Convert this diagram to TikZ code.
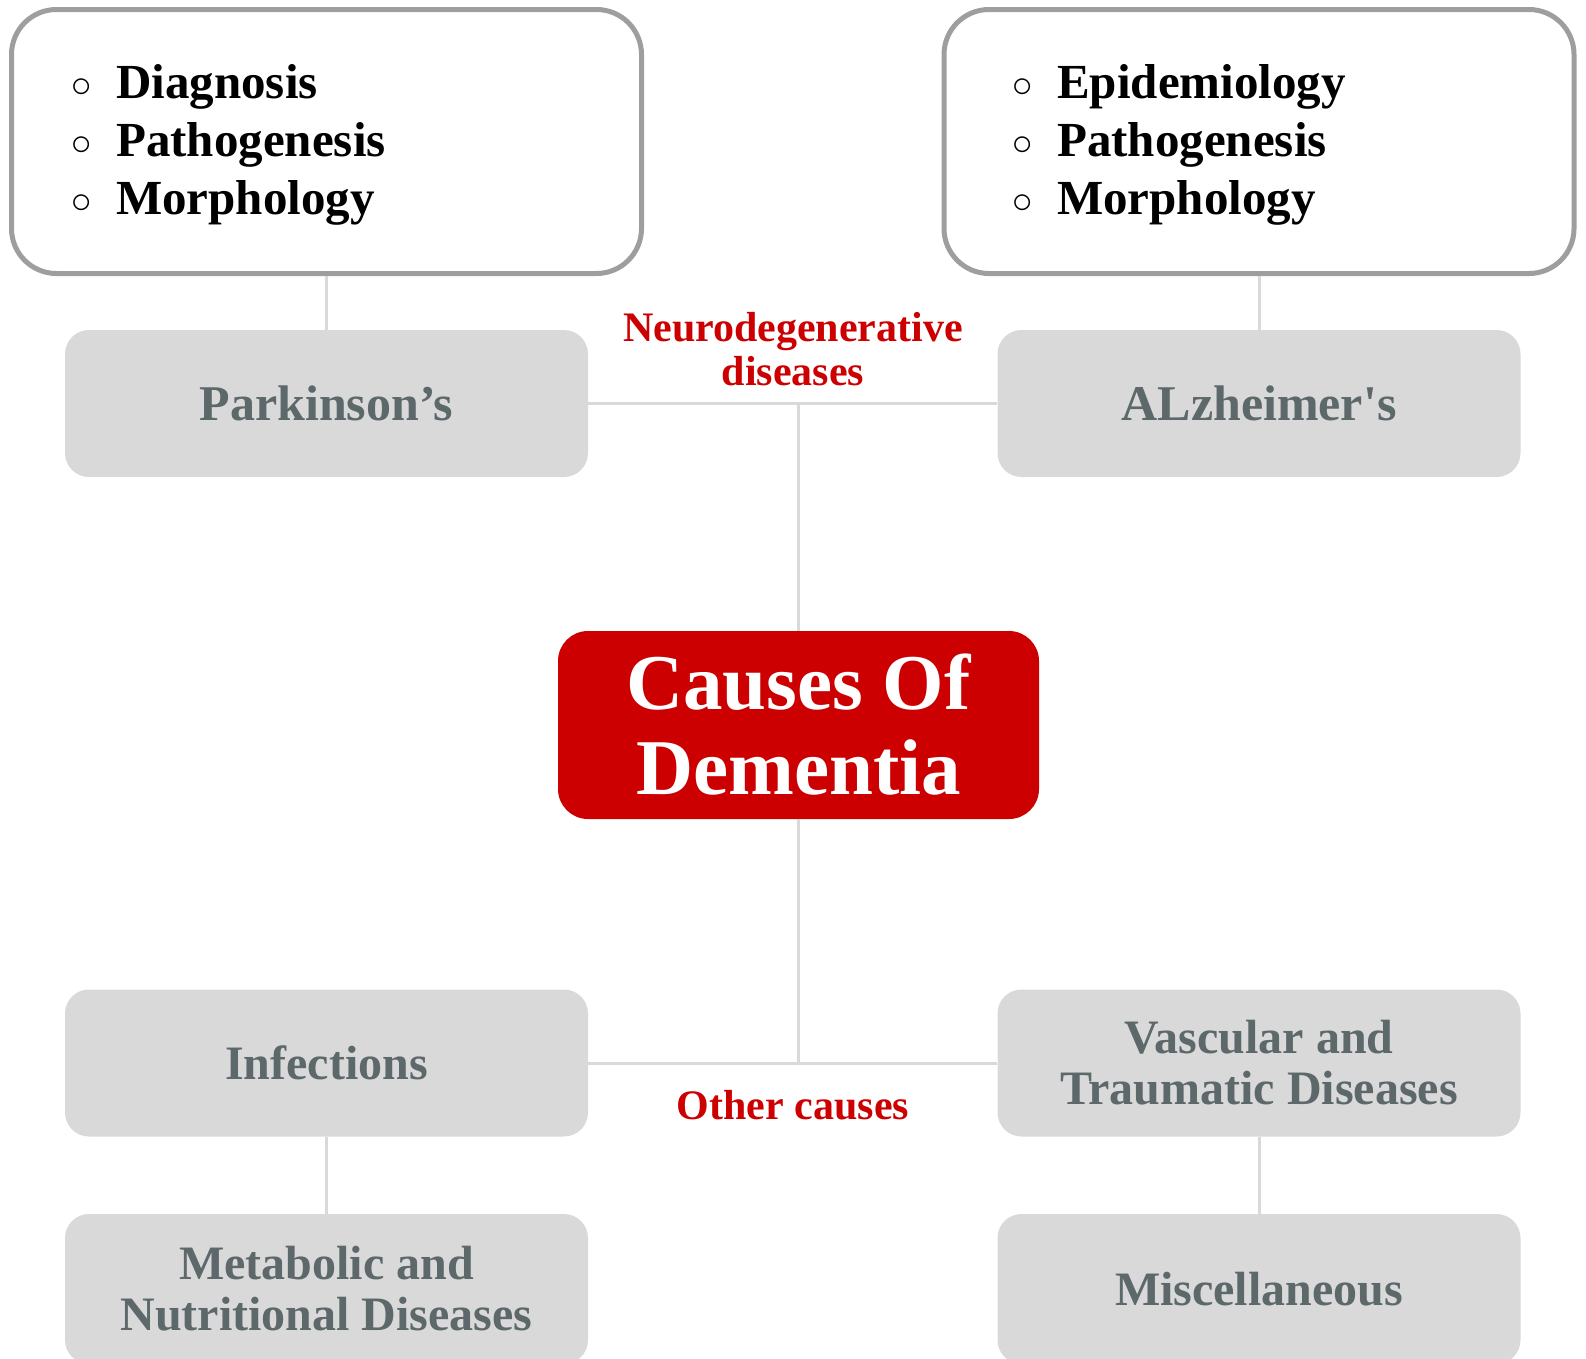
\documentclass[tikz,border=0pt]{standalone}
\usepackage{fontspec}
\setmainfont{Liberation Serif}[Ligatures=TeXOff]
\definecolor{boxgrey}{HTML}{D9D9D9}
\definecolor{txtgrey}{HTML}{5D686B}
\definecolor{redc}{HTML}{CC0000}
\definecolor{bordergrey}{HTML}{9E9E9E}
\newcommand{\bul}{\makebox[30pt][c]{\fontsize{36}{36}\selectfont\raisebox{1pt}{○}}\hspace{20pt}}
\tikzset{
  topbox/.style={draw=bordergrey, line width=5pt, fill=white, rounded corners=45pt,
    minimum width=630pt, minimum height=264pt, inner sep=0pt},
  greybox/.style={fill=boxgrey, rounded corners=24pt, minimum width=523pt,
    minimum height=147pt, inner sep=0pt, text=txtgrey, font=\bfseries\fontsize{48}{51}\selectfont, align=center},
  redbox/.style={fill=redc, rounded corners=30pt, minimum width=481pt,
    minimum height=188pt, inner sep=0pt, text=white, font=\bfseries\fontsize{79}{85}\selectfont, align=center},
  conn/.style={draw=boxgrey, line width=3pt},
  redlabel/.style={text=redc, font=\bfseries\fontsize{42}{44}\selectfont, align=center, inner sep=0pt},
  bullist/.style={anchor=west, align=left, inner sep=0pt, font=\bfseries\fontsize{49}{58}\selectfont}
}
\begin{document}
\begin{tikzpicture}[x=1pt,y=-1pt]
\useasboundingbox (0,0) rectangle (1586,1358);
\begin{scope}
\clip (0,0) rectangle (1586,1358);
% boxes
\node[topbox] (tl) at (326.5,141.5) {};
\node[topbox] (tr) at (1259,141.5) {};
\node[greybox, font=\bfseries\fontsize{50}{51}\selectfont] (park) at (326.5,403.5) {Parkinson’s};
\node[greybox, font=\bfseries\fontsize{50}{51}\selectfont] (alz) at (1259,403.5) {ALzheimer's};
\node[redbox] (red) at (798.5,725) {Causes Of\\Dementia};
\node[greybox] (inf) at (326.5,1063) {Infections};
\node[greybox] (vasc) at (1259,1063) {Vascular and\\Traumatic Diseases};
\node[greybox, minimum height=150pt] (meta) at (326.5,1289) {Metabolic and\\Nutritional Diseases};
\node[greybox, minimum height=150pt] (misc) at (1259,1289) {Miscellaneous};
% list texts
\node[bullist] (tllist) at (66,145) {\bul Diagnosis\\\bul Pathogenesis\\\bul Morphology};
\node[bullist] (trlist) at (1007,145) {\bul Epidemiology\\\bul Pathogenesis\\\bul Morphology};
% labels
\node[redlabel] (ndlab) at (793,349) {Neurodegenerative\\diseases};
\node[redlabel] (oclab) at (793,1105) {Other causes};
% connectors
\draw[conn] (tl.south) -- (park.north);
\draw[conn] (tr.south) -- (alz.north);
\draw[conn] (park.east) -- (alz.west);
\draw[conn] (red.north) -- (red.north |- park.east);
\draw[conn] (red.south) -- (red.south |- inf.east);
\draw[conn] (inf.east) -- (vasc.west);
\draw[conn] (inf.south) -- (meta.north);
\draw[conn] (vasc.south) -- (misc.north);
\end{scope}
\end{tikzpicture}
\end{document}
